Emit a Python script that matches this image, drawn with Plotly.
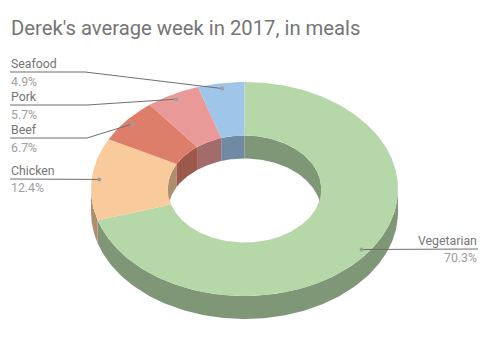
import numpy as np
import plotly.graph_objects as go

categories = ["Vegetarian", "Chicken", "Beef", "Pork", "Seafood"]
values = [70.3, 12.4, 6.7, 5.7, 4.9]
colors = ["#b6d7a8", "#f9cb9c", "#dd7e6b", "#ea9999", "#9fc5e8"]
wall_colors = ["#7f9777", "#ae8e6d", "#9b584b", "#a46b6b", "#6f8aa2"]

title_text = "Derek's average week in 2017, in meals"

# Chart geometry (pixel-like axis units)
CX, CY, RX, RY, DEPTH, HOLE = 244.5, 189.0, 153.5, 107.0, 23.0, 0.5
LEADER_R = 0.95
W, H = 490, 358

# Leader routing and label layout: elbow (None = straight), end x, label y, pct y
leader = {
    "Seafood": dict(elbow=(85, 72), end=(10, 72), ty=63.5, py=82, right=False),
    "Pork": dict(elbow=(87, 105), end=(10, 105), ty=97, py=114.5, right=False),
    "Beef": dict(elbow=(87, 138), end=(10, 138), ty=130, py=148, right=False),
    "Chicken": dict(elbow=None, end=(10, 179), ty=171, py=188, right=False),
    "Vegetarian": dict(elbow=None, end=(478, 249), ty=241, py=258, right=True),
}


def ell(theta, scale=1.0, dy=0.0):
    return (CX + RX * scale * np.sin(theta), CY - RY * scale * np.cos(theta) + dy)


def arc(a, b):
    return np.linspace(a, b, max(8, int(abs(b - a) * 60)))


fracs = np.array(values) / sum(values)
edges = np.concatenate([[0], np.cumsum(fracs)]) * 2 * np.pi
fig = go.Figure()


def poly(xs, ys, color, name):
    fig.add_trace(go.Scatter(x=xs, y=ys, mode="lines", fill="toself", fillcolor=color,
                             line=dict(width=0, color=color), hoverinfo="text", text=name,
                             showlegend=False))


# Outer walls: front half of the ring
for i, name in enumerate(categories):
    a, b = max(edges[i], np.pi / 2), min(edges[i + 1], 1.5 * np.pi)
    if b > a:
        t = arc(a, b)
        x, y = ell(t)
        x2, y2 = ell(t[::-1], dy=DEPTH)
        poly(np.r_[x, x2], np.r_[y, y2], wall_colors[i], name)

# Inner walls: back half of the hole
for i, name in enumerate(categories):
    for lo, hi in ((0, np.pi / 2), (1.5 * np.pi, 2 * np.pi)):
        a, b = max(edges[i], lo), min(edges[i + 1], hi)
        if b > a:
            t = arc(a, b)
            x, y = ell(t, HOLE)
            x2, y2 = ell(t[::-1], HOLE, DEPTH)
            poly(np.r_[x, x2], np.r_[y, y2], wall_colors[i], name)

# Top faces
for i, name in enumerate(categories):
    t = arc(edges[i], edges[i + 1])
    x, y = ell(t)
    x2, y2 = ell(t[::-1], HOLE)
    poly(np.r_[x, x2], np.r_[y, y2], colors[i], name)

# Leaders and labels
annotations = []
for i, name in enumerate(categories):
    mid = (edges[i] + edges[i + 1]) / 2
    px, py = ell(mid, LEADER_R)
    cfg = leader[name]
    pts = [(px, py)] + ([cfg["elbow"]] if cfg["elbow"] else []) + [cfg["end"]]
    fig.add_trace(go.Scatter(x=[p[0] for p in pts], y=[p[1] for p in pts], mode="lines",
                             line=dict(color="#6f6f6f", width=1), hoverinfo="skip", showlegend=False))
    fig.add_trace(go.Scatter(x=[px], y=[py], mode="markers",
                             marker=dict(color="#9e9e9e", size=4), hoverinfo="skip", showlegend=False))
    anchor = "right" if cfg["right"] else "left"
    tx = cfg["end"][0] + (1 if cfg["right"] else -1)
    annotations.append(dict(x=tx, y=cfg["ty"], text=name, showarrow=False, xanchor=anchor, yanchor="middle",
                            xshift=0, font=dict(family="Roboto", size=12.3, color="#757575")))
    annotations.append(dict(x=tx, y=cfg["py"], text=f"{values[i]:.1f}%", showarrow=False, xanchor=anchor,
                            yanchor="middle", font=dict(family="Roboto", size=12.3, color="#9e9e9e")))

fig.update_layout(
    width=W, height=H, margin=dict(l=0, r=0, t=0, b=0, pad=0),
    paper_bgcolor="white", plot_bgcolor="white", showlegend=False,
    title=dict(text=title_text, x=11 / W, xanchor="left", xref="paper", y=1 - 28 / H, yanchor="middle",
               yref="paper", font=dict(family="Roboto", size=20.25, color="#757575")),
    xaxis=dict(range=[0, W], visible=False, fixedrange=True),
    yaxis=dict(range=[H, 0], visible=False, fixedrange=True),
    annotations=annotations,
)
fig.write_html("out.html", post_script="document.body.style.margin='0';",
               config={"displayModeBar": False})
